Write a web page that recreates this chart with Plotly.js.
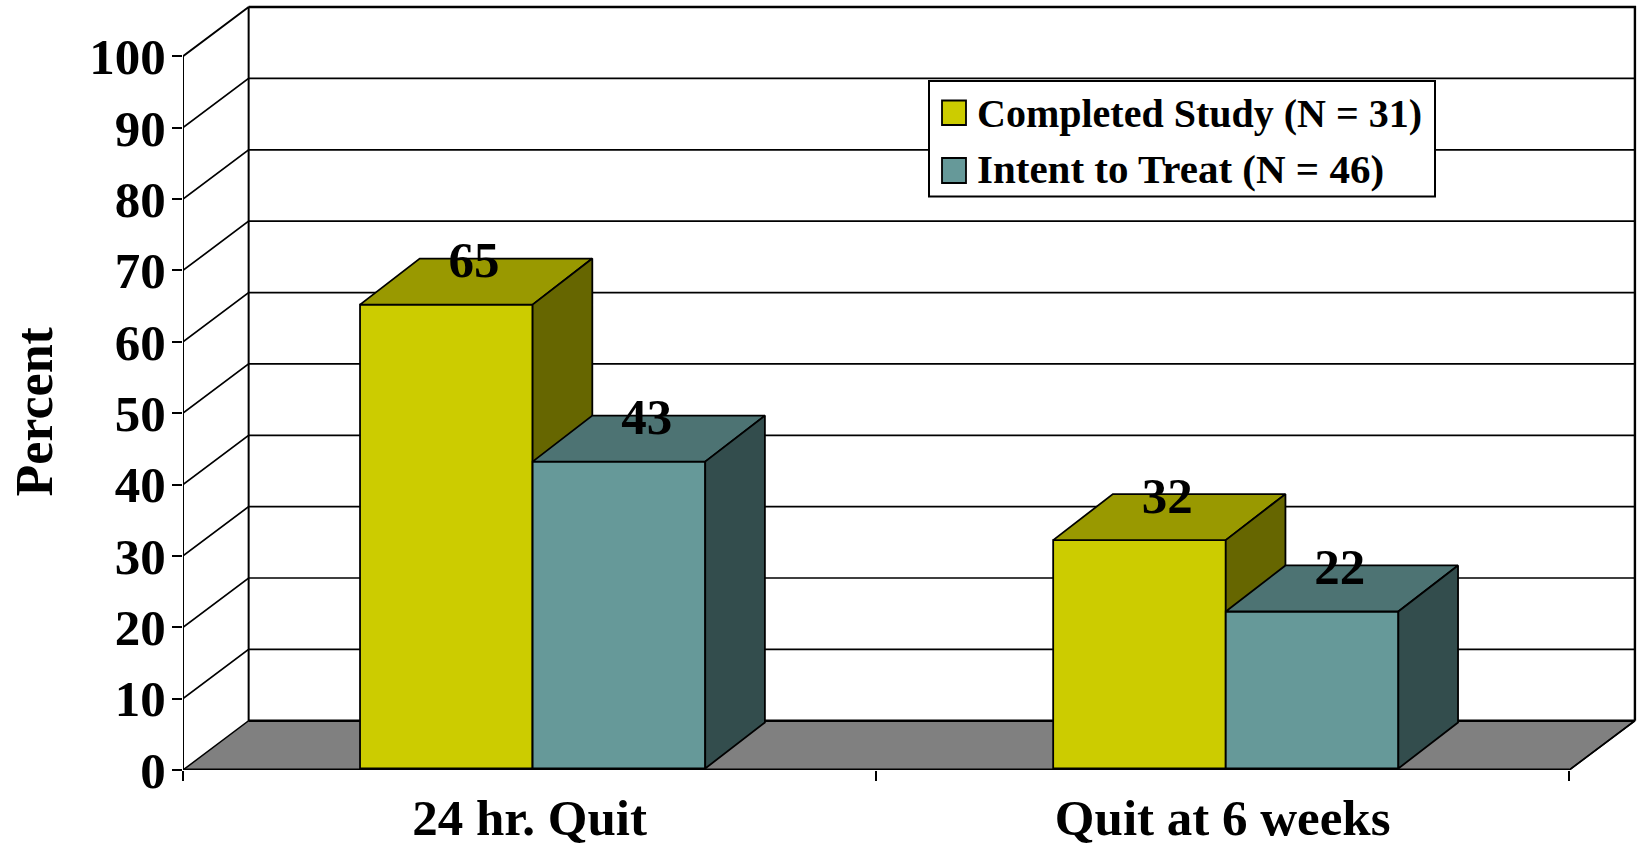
<!DOCTYPE html>
<html>
<head>
<meta charset="utf-8">
<script src="https://cdn.plot.ly/plotly-3.0.1.min.js"></script>
<style>html,body{margin:0;padding:0;background:#fff}#chart{width:1639px;height:847px}</style>
</head>
<body>
<div id="chart"></div>
<script>
// Quit rates by study group
const categories = ['24 hr. Quit', 'Quit at 6 weeks'];
const categoryCenters = [0.5, 1.5];
const completedName = 'Completed Study (N = 31)';
const intentName = 'Intent to Treat (N = 46)';
const completedValues = [65, 32];
const intentValues = [43, 22];
const percentTicks = [0, 10, 20, 30, 40, 50, 60, 70, 80, 90, 100];

const SERIF = '"Liberation Serif", "Times New Roman", serif';
const BLACK = '#000000';
const boldFont = size => ({family: SERIF, size, color: BLACK, weight: 700});

// Plot frame: front plane runs over x 0..2 and y 0..100 on the shared axes
const W = 1639, H = 847;
const M = {l: 183, r: 2, t: 4, b: 77};
const xMax = 2.0977, yMax = 107.33;
const wallDx = 0.0947, wallDy = 6.9;    // depth of the chart box
const barDx = 0.0861, barDy = 6.45;     // depth of each column
const barInset = 0.21;                  // columns stand slightly behind the front plane
const barWidth = 0.249;
const completedOffset = -0.2446, intentOffset = 0.0044;

const poly = (pts, fill, lw, axes) => ({
  type: 'scatter', mode: 'lines', x: pts.map(p => p[0]), y: pts.map(p => p[1]),
  fill: fill ? 'toself' : 'none', fillcolor: fill || undefined,
  line: {color: BLACK, width: lw}, hoverinfo: 'skip', showlegend: false,
  cliponaxis: false, xaxis: axes[0], yaxis: axes[1]
});

const traces = [];
const baseAxes = ['x', 'y'];

// Floor
traces.push(poly([[0, 0], [wallDx, wallDy], [2 + wallDx, wallDy], [2, 0], [0, 0]], '#808080', 1.5, baseAxes));
// Side wall, back wall edges and gridlines
traces.push(poly([[0, 0], [0, 100], [wallDx, 100 + wallDy], [wallDx, wallDy]], null, 2, baseAxes));
traces.push(poly([[wallDx, 100 + wallDy], [2 + wallDx, 100 + wallDy], [2 + wallDx, wallDy]], null, 2.4, baseAxes));
traces.push(poly([[wallDx, wallDy], [2 + wallDx, wallDy]], null, 2.6, baseAxes));
percentTicks.slice(1, -1).forEach(t => {
  traces.push(poly([[0, t], [wallDx, t + wallDy], [2 + wallDx, t + wallDy]], null, 1.7, baseAxes));
});

// One column per value: front from a bar trace, top and side from the same value
function addSeries(name, values, offset, colors, axes) {
  traces.push({
    type: 'bar', name, x: categoryCenters, y: values, width: barWidth, offset,
    marker: {color: colors.front, line: {color: BLACK, width: 1.8}},
    hoverinfo: 'name+y', showlegend: false, xaxis: axes[0], yaxis: axes[1]
  });
  values.forEach((v, i) => {
    const x0 = categoryCenters[i] + offset, x1 = x0 + barWidth;
    traces.push(poly([[x0, v], [x0 + barDx, v + barDy], [x1 + barDx, v + barDy], [x1, v], [x0, v]], colors.top, 1.8, axes));
    traces.push(poly([[x1, 0], [x1 + barDx, barDy], [x1 + barDx, v + barDy], [x1, v], [x1, 0]], colors.side, 1.8, axes));
  });
}
addSeries(completedName, completedValues, completedOffset, {front: '#CCCC00', top: '#999900', side: '#666600'}, ['x2', 'y2']);
addSeries(intentName, intentValues, intentOffset, {front: '#669999', top: '#4D7373', side: '#334D4D'}, ['x3', 'y3']);

// Front baseline and value labels on the top layer
const topAxes = ['x4', 'y4'];
traces.push(poly([[0, 0], [2, 0]], null, 3, topAxes));
traces.push(poly([[2, 0], [2 + wallDx, wallDy]], null, 1.6, topAxes));
const labelDx = 0.04, labelDy = 5.8;
function addLabels(values, offset) {
  traces.push({
    type: 'scatter', mode: 'text', showlegend: false, hoverinfo: 'skip', cliponaxis: false,
    x: categoryCenters.map(c => c + offset + barWidth / 2 + labelDx),
    y: values.map(v => v + labelDy),
    text: values.map(String), textposition: 'middle center',
    textfont: boldFont(51),
    xaxis: topAxes[0], yaxis: topAxes[1]
  });
}
addLabels(completedValues, completedOffset);
addLabels(intentValues, intentOffset);

// Legend box and axis title, pixel placement converted to paper fractions
const plotW = W - M.l - M.r, plotH = H - M.t - M.b;
const px = x => (x - M.l) / plotW;
const py = y => 1 - (y - M.t) / plotH;
const paperRect = (x0, y0, x1, y1, fill, lw) => ({
  type: 'rect', xref: 'paper', yref: 'paper', layer: 'above',
  x0: px(x0), x1: px(x1), y0: py(y1), y1: py(y0),
  fillcolor: fill, line: {color: BLACK, width: lw}
});
const legendText = (text, y, size) => ({
  xref: 'paper', yref: 'paper', x: px(975), y: py(y), xanchor: 'left', yanchor: 'middle',
  text, showarrow: false, font: boldFont(size)
});

const hiddenX = r => ({range: r, overlaying: 'x', visible: false, fixedrange: true});
const hiddenY = r => ({range: r, overlaying: 'y', visible: false, fixedrange: true});
const shifted = [-barInset, yMax - barInset];

const layout = {
  width: W, height: H, margin: M, showlegend: false,
  paper_bgcolor: '#ffffff', plot_bgcolor: '#ffffff',
  font: {family: SERIF, color: BLACK},
  xaxis: {
    range: [0, xMax], tickvals: [0, 1, 2], ticktext: ['', '', ''], ticks: 'outside', ticklen: 10,
    tickwidth: 1.8, tickcolor: BLACK, showgrid: false, zeroline: false, showline: false, fixedrange: true
  },
  yaxis: {
    range: [0, yMax], tickvals: percentTicks, ticks: 'outside', ticklen: 10, tickwidth: 2, tickcolor: BLACK,
    showgrid: false, zeroline: false, showline: false, fixedrange: true, ticklabelstandoff: -4,
    tickfont: boldFont(51)
  },
  xaxis2: hiddenX([0, xMax]), yaxis2: hiddenY(shifted),
  xaxis3: hiddenX([0, xMax]), yaxis3: hiddenY(shifted),
  xaxis4: {
    range: [0, xMax], overlaying: 'x', anchor: 'y4', tickvals: categoryCenters, ticktext: categories,
    ticks: '', showgrid: false, zeroline: false, showline: false, fixedrange: true, ticklabelstandoff: 13,
    tickfont: boldFont(51)
  },
  yaxis4: hiddenY([0, yMax]),
  shapes: [
    paperRect(929, 81, 1435, 196.5, '#ffffff', 2),
    paperRect(942, 100.5, 966, 125, '#CCCC00', 1.8),
    paperRect(942, 158, 966, 183, '#669999', 1.8)
  ],
  annotations: [
    legendText(completedName, 114, 40), legendText(intentName, 169.5, 41),
    {
      xref: 'paper', yref: 'paper', x: px(33.5), y: py(412), xanchor: 'center', yanchor: 'middle',
      text: 'Percent', textangle: -90, showarrow: false, font: boldFont(52)
    }
  ]
};

Plotly.newPlot('chart', traces, layout, {displayModeBar: false});
</script>
</body>
</html>
